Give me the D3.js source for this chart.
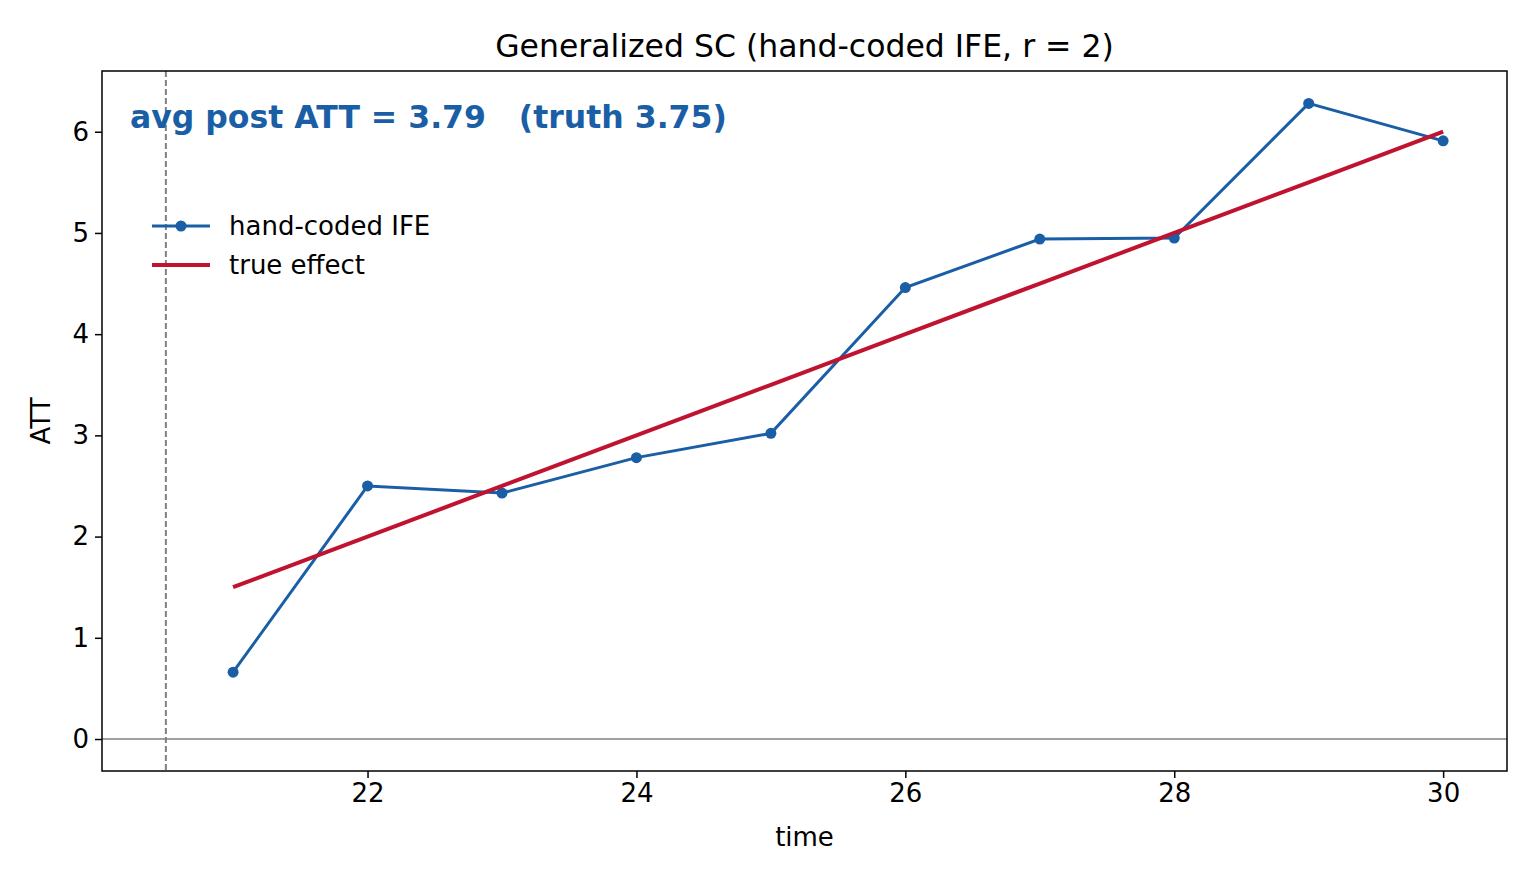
<!DOCTYPE html>
<html><head><meta charset="utf-8">
<script src="https://cdn.jsdelivr.net/npm/d3@7"></script>
<style>body{margin:0;background:#fff}text{font-family:"DejaVu Sans",sans-serif}</style>
</head><body><svg id="c" width="1536" height="883"></svg>
<script>
const times = [21,22,23,24,25,26,27,28,29,30];
const ifeAtt = [0.66,2.50,2.43,2.78,3.02,4.46,4.94,4.95,6.28,5.91];
const trueEffect = [1.5,2.0,2.5,3.0,3.5,4.0,4.5,5.0,5.5,6.0];
const xTicks = [22,24,26,28,30];
const yTicks = [0,1,2,3,4,5,6];

const svg = d3.select('#c');
const L = 102, R = 1507, T = 71, B = 771;
const x = d3.scaleLinear().domain([20.025,30.475]).range([L,R]);
const y = d3.scaleLinear().domain([-0.316,6.6]).range([B,T]);

svg.append('line').attr('x1',L).attr('x2',R).attr('y1',y(0)).attr('y2',y(0))
    .attr('stroke','#808080').attr('stroke-width',1.5);
svg.append('line').attr('x1',x(20.5)).attr('x2',x(20.5)).attr('y1',T).attr('y2',B)
    .attr('stroke','#808080').attr('stroke-width',2).attr('stroke-dasharray','6,3');

const line = d3.line().x((d,i)=>x(times[i])).y(d=>y(d));
svg.append('path').attr('d',line(ifeAtt)).attr('fill','none').attr('stroke','#1a5ea6').attr('stroke-width',3);
svg.selectAll('circle.p').data(ifeAtt).enter().append('circle')
    .attr('cx',(d,i)=>x(times[i])).attr('cy',d=>y(d)).attr('r',5.5).attr('fill','#1a5ea6');
svg.append('path').attr('d',line(trueEffect)).attr('fill','none').attr('stroke','#c0132f').attr('stroke-width',4);

svg.append('g').attr('transform',`translate(0,${B})`)
    .call(d3.axisBottom(x).tickValues(xTicks).tickFormat(d3.format('d')).tickSize(7).tickPadding(6))
    .call(g=>{g.select('.domain').remove();g.selectAll('text').attr('font-size',26).attr('fill','#000');g.selectAll('line').attr('stroke-width',1.5);});
svg.append('g').attr('transform',`translate(${L},0)`)
    .call(d3.axisLeft(y).tickValues(yTicks).tickFormat(d3.format('d')).tickSize(7).tickPadding(6))
    .call(g=>{g.select('.domain').remove();g.selectAll('text').attr('font-size',26).attr('fill','#000');g.selectAll('line').attr('stroke-width',1.5);});
svg.append('rect').attr('x',L).attr('y',T).attr('width',R-L).attr('height',B-T)
    .attr('fill','none').attr('stroke','#000').attr('stroke-width',1.5);

svg.append('text').attr('x',(L+R)/2).attr('y',57).attr('text-anchor','middle').attr('font-size',31.5).text('Generalized SC (hand-coded IFE, r = 2)');
svg.append('text').attr('x',(L+R)/2).attr('y',846).attr('text-anchor','middle').attr('font-size',26).text('time');
svg.append('text').attr('transform',`translate(50,${(T+B)/2}) rotate(-90)`).attr('text-anchor','middle').attr('font-size',26).text('ATT');
svg.append('text').attr('x',130).attr('y',128).attr('font-size',31.5).attr('font-weight','bold').attr('fill','#1a5ea6')
    .style('white-space','pre').text('avg post ATT = 3.79   (truth 3.75)');

const lg = svg.append('g');
lg.append('line').attr('x1',152).attr('x2',210).attr('y1',226).attr('y2',226).attr('stroke','#1a5ea6').attr('stroke-width',3);
lg.append('circle').attr('cx',181).attr('cy',226).attr('r',5.5).attr('fill','#1a5ea6');
lg.append('text').attr('x',229).attr('y',235).attr('font-size',26).text('hand-coded IFE');
lg.append('line').attr('x1',152).attr('x2',210).attr('y1',265).attr('y2',265).attr('stroke','#c0132f').attr('stroke-width',4);
lg.append('text').attr('x',229).attr('y',274).attr('font-size',26).text('true effect');
</script></body></html>
